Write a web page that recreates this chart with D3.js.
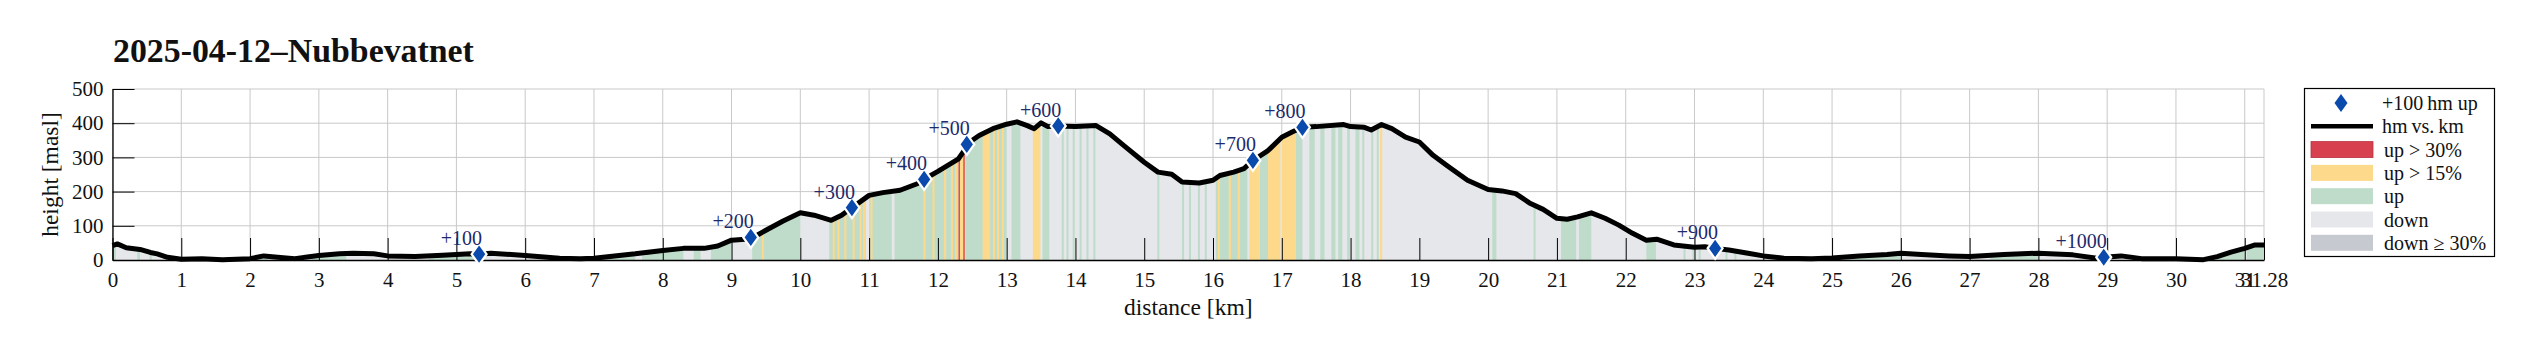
<!DOCTYPE html>
<html>
<head>
<meta charset="utf-8">
<script src="https://cdn.jsdelivr.net/npm/d3@7"></script>
<style>
  html, body { margin: 0; padding: 0; background: #fff; }
  svg { display: block; }
  text { font-family: "Liberation Serif", "DejaVu Serif", serif; }
</style>
</head>
<body>
<svg id="chart" width="2535" height="361"></svg>
<script>
// ---------------- data ----------------
const titleText = "2025-04-12\u2013Nubbevatnet";

// elevation profile (distance km, height m)
const profileKm = [0,0.07,0.2,0.4,0.55,0.65,0.8,1.0,1.3,1.6,2.0,2.2,2.4,2.65,3.0,3.3,3.5,3.8,4.0,4.4,4.8,5.2,5.33,5.5,6.0,6.5,6.8,7.0,7.3,7.6,8.0,8.3,8.6,8.8,9.0,9.15,9.28,9.5,9.75,10.0,10.2,10.45,10.6,10.75,11.0,11.2,11.45,11.7,11.8,12.0,12.3,12.4,12.5,12.6,12.8,13.0,13.15,13.3,13.4,13.5,13.6,13.75,14.0,14.3,14.5,14.7,15.0,15.2,15.4,15.55,15.8,16.0,16.1,16.3,16.45,16.58,16.8,17.0,17.15,17.3,17.5,17.9,18.0,18.2,18.3,18.45,18.6,18.8,19.0,19.2,19.4,19.7,20.0,20.2,20.4,20.6,20.8,21.0,21.15,21.3,21.5,21.7,21.9,22.1,22.3,22.45,22.7,23.0,23.15,23.3,23.5,23.8,24.0,24.3,24.7,25.0,25.4,25.8,26.0,26.3,26.7,27.0,27.5,28.0,28.5,28.85,28.95,29.2,29.5,30.0,30.4,30.6,30.8,31.0,31.15,31.28];
const profileH  = [42,47,36,31,22,18,8,2,4,1,4,12,8,4,13,18,20,18,12,10,14,18,17,20,13,5,4,5,12,18,28,34,34,41,58,60,62,87,114,138,131,116,131,153,189,197,204,223,236,259,296,325,350,364,384,397,404,393,384,401,390,392,390,393,369,335,286,257,251,228,225,233,247,257,267,291,320,359,374,388,390,396,390,388,380,396,384,359,345,306,276,233,206,202,194,167,148,122,119,126,138,122,102,78,58,61,44,37,39,34,29,19,12,5,4,6,12,16,20,16,12,10,16,20,15,5,8,12,4,4,1,10,23,34,44,44];

// gradient classes along the route (start km, end km)
const upSegs = [[0,0.05],[0.36,0.4],[0.54,0.57],[2.1,2.25],[2.9,3.4],[4.6,5.3],[7.1,7.6],[7.7,8.3],[8.45,8.55],[8.7,9.0],[9.3,10.0],[10.42,10.95],[11.0,11.33],[11.37,12.3],[12.4,13.0],[13.07,13.2],[13.52,13.62],[13.8,13.83],[13.87,13.9],[13.96,13.99],[14.06,14.09],[14.16,14.19],[14.26,14.29],[15.19,15.22],[15.55,15.58],[15.65,15.68],[15.78,15.81],[15.88,15.91],[16.04,16.5],[16.68,16.8],[17.2,17.3],[17.4,17.48],[17.56,17.62],[17.72,17.78],[17.82,17.88],[17.95,17.99],[18.07,18.13],[18.17,18.2],[18.3,18.33],[18.38,18.41],[20.06,20.12],[20.66,20.69],[21.06,21.28],[21.32,21.5],[22.3,22.44],[22.84,22.87],[22.97,23.0],[23.06,23.09],[23.45,23.48],[23.58,23.61],[25.2,26.0],[27.3,28.0],[30.5,31.0],[31.03,31.28]];
const steepSegs = [[9.44,9.47],[10.47,10.5],[10.54,10.57],[10.64,10.67],[10.76,10.79],[10.86,10.89],[10.91,10.94],[11.02,11.05],[11.79,11.82],[11.92,11.95],[12.09,12.12],[12.19,12.22],[12.25,12.28],[12.3,12.4],[12.65,12.76],[12.8,12.83],[12.86,12.89],[12.93,12.96],[13.38,13.49],[16.07,16.1],[16.23,16.26],[16.36,16.39],[16.53,16.68],[16.8,16.98],[17.0,17.2],[18.43,18.46]];
const redSegs = [[12.3,12.32],[12.37,12.39]];

// +100 hm markers
const markKm = [5.33,9.28,10.75,11.8,12.42,13.75,16.58,17.3,23.3,28.95];
const markH  = [17,66,153,236,338,392,291,388,34,8];
const markLabels = ["+100","+200","+300","+400","+500","+600","+700","+800","+900","+1000"];

// axes
const xTicks = [0,1,2,3,4,5,6,7,8,9,10,11,12,13,14,15,16,17,18,19,20,21,22,23,24,25,26,27,28,29,30,31,31.28];
const yTicks = [0,100,200,300,400,500];
const xLabel = "distance [km]";
const yLabel = "height [masl]";

// legend
const legendLabels = ["+100\u2009hm up","hm\u2009vs.\u2009km","up > 30%","up > 15%","up","down","down \u2265 30%"];
const legendKinds  = ["diamond","line","rect","rect","rect","rect","rect"];

// ---------------- styles ----------------
const C = {
  red: "#d6404f", yellow: "#fdd98b", green: "#bfdccb", down: "#e6e7ea", downSteep: "#c6c9d0",
  marker: "#0a4aad", markText: "#1d2a6b", grid: "#c9c9c9"
};
const legendColors = [C.marker, "#000", C.red, C.yellow, C.green, C.down, C.downSteep];

// ---------------- draw ----------------
const svg = d3.select("#chart");
const L = 112.5, R = 2264, T = 89, B = 260;
const x = d3.scaleLinear().domain([0, 31.28]).range([L, R]);
const y = d3.scaleLinear().domain([0, 500]).range([B, T]);

const profile = profileKm.map((k, i) => [k, profileH[i]]);

// title (fit to reference width)
const title = svg.append("text").attr("x", 113).attr("y", 62)
  .attr("font-family", "Liberation Serif").attr("font-weight", "bold")
  .attr("font-size", 30).attr("fill", "#111").text(titleText);
const tw = title.node().getComputedTextLength();
title.attr("font-size", 30 * 361 / tw);

// grid
const grid = svg.append("g").attr("stroke", C.grid).attr("stroke-width", 1);
xTicks.forEach(t => grid.append("line").attr("x1", x(t)).attr("x2", x(t)).attr("y1", B).attr("y2", T));
yTicks.forEach(t => grid.append("line").attr("x1", L).attr("x2", R).attr("y1", y(t)).attr("y2", y(t)));

// area clip
const areaGen = d3.area().x(d => x(d[0])).y0(y(0)).y1(d => y(d[1]));
svg.append("clipPath").attr("id", "under").append("path").attr("d", areaGen(profile));
const fills = svg.append("g").attr("clip-path", "url(#under)");
fills.append("rect").attr("x", x(0)).attr("width", x(31.28) - x(0)).attr("y", T).attr("height", B - T).attr("fill", C.down);
function drawSegs(segs, color) {
  fills.selectAll(null).data(segs).enter().append("rect")
    .attr("x", d => x(d[0])).attr("width", d => Math.max(1, x(d[1]) - x(d[0])))
    .attr("y", T).attr("height", B - T).attr("fill", color);
}
drawSegs(upSegs, C.green);
drawSegs(steepSegs, C.yellow);
drawSegs(redSegs, C.red);

// profile line
svg.append("path").attr("d", d3.line().x(d => x(d[0])).y(d => y(d[1]))(profile))
  .attr("fill", "none").attr("stroke", "#000").attr("stroke-width", 5).attr("stroke-linejoin", "round");

// axes
const xAxis = d3.axisBottom(x).tickValues(xTicks).tickSizeInner(-22).tickSizeOuter(0)
  .tickFormat(d => Number.isInteger(d) ? d : d3.format(".2f")(d)).tickPadding(8);
const gx = svg.append("g").attr("transform", `translate(0,${B})`).call(xAxis);
gx.select(".domain").attr("stroke", "#000").attr("stroke-width", 1.3);
gx.selectAll(".tick line").attr("stroke", "#000");
gx.selectAll(".tick text").attr("font-family", "Liberation Serif").attr("font-size", 21).attr("fill", "#111")
  .attr("dy", "0.9em");

const yAxis = d3.axisLeft(y).tickValues(yTicks).tickSizeInner(-22).tickSizeOuter(0).tickPadding(9);
const gy = svg.append("g").attr("transform", `translate(${L},0)`).call(yAxis);
gy.select(".domain").attr("stroke", "#000").attr("stroke-width", 1.3);
gy.selectAll(".tick line").attr("stroke", "#000");
gy.selectAll(".tick text").attr("font-family", "Liberation Serif").attr("font-size", 21).attr("fill", "#111");

// axis labels
svg.append("text").attr("x", (L + R) / 2).attr("y", 315).attr("text-anchor", "middle")
  .attr("font-size", 23.5).attr("fill", "#111").text(xLabel);
svg.append("text").attr("transform", `translate(58,${(T + B) / 2}) rotate(-90)`).attr("text-anchor", "middle")
  .attr("font-size", 23.5).attr("fill", "#111").text(yLabel);

// markers
const diamond = (cx, cy, w, h) => `M${cx},${cy - h / 2}L${cx + w / 2},${cy}L${cx},${cy + h / 2}L${cx - w / 2},${cy}Z`;
const mk = svg.append("g");
markKm.forEach((k, i) => {
  mk.append("path").attr("d", diamond(x(k), y(markH[i]), 15, 21))
    .attr("fill", C.marker).attr("stroke", "#fff").attr("stroke-width", 2.2);
  mk.append("text").attr("x", x(k) + 3).attr("y", y(markH[i]) - 9).attr("text-anchor", "end")
    .attr("font-size", 20).attr("fill", C.markText).text(markLabels[i]);
});

// legend
const lg = svg.append("g");
lg.append("rect").attr("x", 2304.5).attr("y", 88.5).attr("width", 190).attr("height", 168)
  .attr("fill", "#fff").attr("stroke", "#000").attr("stroke-width", 1.2);
const rowY = d3.range(legendLabels.length).map(i => 103 + i * 23.3);
legendLabels.forEach((lab, i) => {
  const cy = rowY[i];
  if (legendKinds[i] === "diamond") {
    lg.append("path").attr("d", diamond(2341, cy, 13, 18)).attr("fill", legendColors[i]);
  } else if (legendKinds[i] === "line") {
    lg.append("line").attr("x1", 2311).attr("x2", 2373).attr("y1", cy).attr("y2", cy)
      .attr("stroke", legendColors[i]).attr("stroke-width", 4.5);
  } else {
    lg.append("rect").attr("x", 2311).attr("y", cy - 8).attr("width", 62).attr("height", 16)
      .attr("fill", legendColors[i]).attr("stroke", i === 2 ? "#b8323f" : "none").attr("stroke-width", 0.8);
  }
  lg.append("text").attr("x", i < 2 ? 2382 : 2384).attr("y", cy).attr("dy", "0.35em")
    .attr("font-size", 20).attr("fill", "#111").text(lab);
});
</script>
</body>
</html>
